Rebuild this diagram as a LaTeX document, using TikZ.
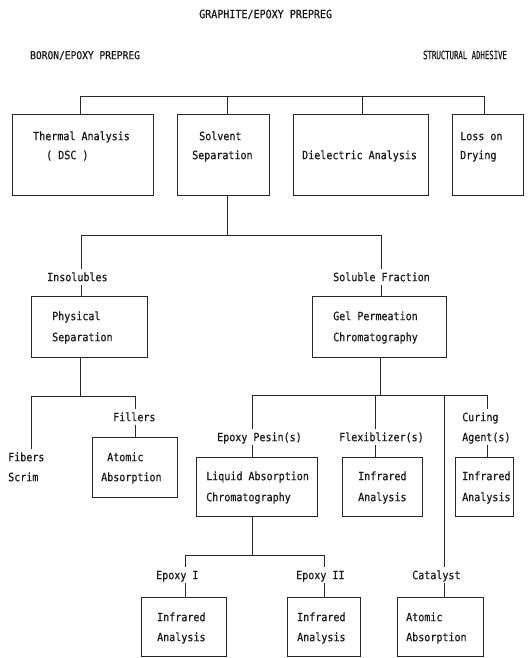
\documentclass[tikz,border=0pt]{standalone}
\usepackage{fontspec}
\setmonofont[FakeStretch=0.88,FakeBold=0.6]{DejaVu Sans Mono}
\begin{document}
\begin{tikzpicture}[x=1pt,y=-1pt,
  box/.style={draw=black!85, line width=1pt, inner sep=0pt},
  txt/.style={anchor=west, inner sep=0pt, font=\ttfamily\fontsize{11.4}{13}\selectfont, text=black!90, text height=8.3pt, text depth=0pt},
  lbl/.style={txt, outer ysep=3.5pt},
  conn/.style={draw=black!85, line width=1pt}]
\useasboundingbox (0,0) rectangle (528,658);
% titles
\node[txt] (graphite) at (199,14) {GRAPHITE/EPOXY PREPREG};
\node[txt, font=\ttfamily\fontsize{10.9}{13}\selectfont] (boron) at (30,55) {BORON/EPOXY PREPREG};
\node[txt, xscale=0.73, transform shape] (adhesive) at (423,55) {STRUCTURAL ADHESIVE};
% boxes
\node[box, minimum width=141pt, minimum height=80pt] (thermal) at (82.5,155) {};
\node[box, minimum width=92pt, minimum height=80pt] (solvent) at (223,155) {};
\node[box, minimum width=135pt, minimum height=80pt] (dielectric) at (360.5,155) {};
\node[box, minimum width=71pt, minimum height=80pt] (loss) at (487.5,155) {};
\node[box, minimum width=116pt, minimum height=61pt] (physical) at (89,326.5) {};
\node[box, minimum width=134pt, minimum height=61pt] (gel) at (379,326.5) {};
\node[box, minimum width=85pt, minimum height=60pt] (atomL) at (134.5,467) {};
\node[box, minimum width=121pt, minimum height=59pt] (lac) at (256.5,486.5) {};
\node[box, minimum width=80pt, minimum height=59pt] (flexir) at (382,486.5) {};
\node[box, minimum width=58pt, minimum height=59pt] (curir) at (484,486.5) {};
\node[box, minimum width=85pt, minimum height=59pt] (ir1) at (183.5,626.5) {};
\node[box, minimum width=73pt, minimum height=59pt] (ir2) at (323.5,626.5) {};
\node[box, minimum width=86pt, minimum height=59pt] (aa) at (440,626.5) {};
% box texts
\node[txt] (thermalA) at (33,136) {Thermal Analysis};
\node[txt] (thermalB) at (46,155) {( DSC )};
\node[txt] (solventA) at (199,136) {Solvent};
\node[txt] (solventB) at (192,155) {Separation};
\node[txt] (dielA) at (302,155) {Dielectric Analysis};
\node[txt] (lossA) at (460,136) {Loss on};
\node[txt] (lossB) at (460,155) {Drying};
\node[txt] (physA) at (52,316) {Physical};
\node[txt] (physB) at (52,337) {Separation};
\node[txt] (gelA) at (333,316) {Gel Permeation};
\node[txt] (gelB) at (333,337) {Chromatography};
\node[txt] (atomLA) at (107,457) {Atomic};
\node[txt] (atomLB) at (101,477) {Absorption};
\node[txt] (lacA) at (206,476) {Liquid Absorption};
\node[txt] (lacB) at (206,497) {Chromatography};
\node[txt] (flexA) at (358,476) {Infrared};
\node[txt] (flexB) at (358,497) {Analysis};
\node[txt] (curA) at (462,476) {Infrared};
\node[txt] (curB) at (462,497) {Analysis};
\node[txt] (ir1A) at (157,617) {Infrared};
\node[txt] (ir1B) at (157,637) {Analysis};
\node[txt] (ir2A) at (297,617) {Infrared};
\node[txt] (ir2B) at (297,637) {Analysis};
\node[txt] (aaA) at (406,617) {Atomic};
\node[txt] (aaB) at (406,637) {Absorption};
% labels
\node[lbl] (insol) at (47,277) {Insolubles};
\node[lbl] (sol) at (333,277) {Soluble Fraction};
\node[lbl] (fillers) at (113,417) {Fillers};
\node[lbl] (fibers) at (8,457) {Fibers};
\node[txt] (scrim) at (8,477) {Scrim};
\node[lbl] (epr) at (217,437) {Epoxy Pesin(s)};
\node[lbl] (flex) at (339,437) {Flexiblizer(s)};
\node[lbl] (curing) at (462,417) {Curing};
\node[lbl] (agent) at (462,437) {Agent(s)};
\node[lbl] (ep1) at (156,575) {Epoxy I};
\node[lbl] (ep2) at (296,575) {Epoxy II};
\node[lbl] (catalyst) at (412,575) {Catalyst};
% junction coordinates
\coordinate (t1) at (80,97);
\coordinate (t2) at (227,97);
\coordinate (t3) at (362,97);
\coordinate (t4) at (484,97);
\coordinate (s0) at (227,235);
\coordinate (sL) at (81,235);
\coordinate (sR) at (381,235);
\coordinate (p0) at (80,396);
\coordinate (pL) at (31,396);
\coordinate (pR) at (135,396);
\coordinate (g0) at (380,395);
\coordinate (gL) at (252,395);
\coordinate (gF) at (375,395);
\coordinate (gC) at (444,395);
\coordinate (gR) at (487,395);
\coordinate (l0) at (252,555);
\coordinate (lL) at (185,555);
\coordinate (lR) at (324,555);
% connectors
\draw[conn] (t1 |- thermal.north) -- (t1) -- (t4) -- (t4 |- loss.north);
\draw[conn] (t2) -- (t2 |- solvent.north);
\draw[conn] (t3) -- (t3 |- dielectric.north);
\draw[conn] (s0 |- solvent.south) -- (s0);
\draw[conn] (sL |- insol.north) -- (sL) -- (sR) -- (sR |- sol.north);
\draw[conn] (insol.south -| sL) -- (physical.north -| sL);
\draw[conn] (sol.south -| sR) -- (gel.north -| sR);
\draw[conn] (p0 |- physical.south) -- (p0);
\draw[conn] (pL |- fibers.north) -- (pL) -- (pR) -- (pR |- fillers.north);
\draw[conn] (fillers.south -| pR) -- (atomL.north -| pR);
\draw[conn] (g0 |- gel.south) -- (g0);
\draw[conn] (gL |- epr.north) -- (gL) -- (gR) -- (gR |- curing.north);
\draw[conn] (gF) -- (gF |- flex.north);
\draw[conn] (gC) -- (gC |- catalyst.north);
\draw[conn] (epr.south -| gL) -- (lac.north -| gL);
\draw[conn] (flex.south -| gF) -- (flexir.north -| gF);
\draw[conn] (agent.south -| gR) -- (curir.north -| gR);
\draw[conn] (catalyst.south -| gC) -- (aa.north -| gC);
\draw[conn] (l0 |- lac.south) -- (l0);
\draw[conn] (lL |- ep1.north) -- (lL) -- (lR) -- (lR |- ep2.north);
\draw[conn] (ep1.south -| lL) -- (ir1.north -| lL);
\draw[conn] (ep2.south -| lR) -- (ir2.north -| lR);
\end{tikzpicture}
\end{document}
